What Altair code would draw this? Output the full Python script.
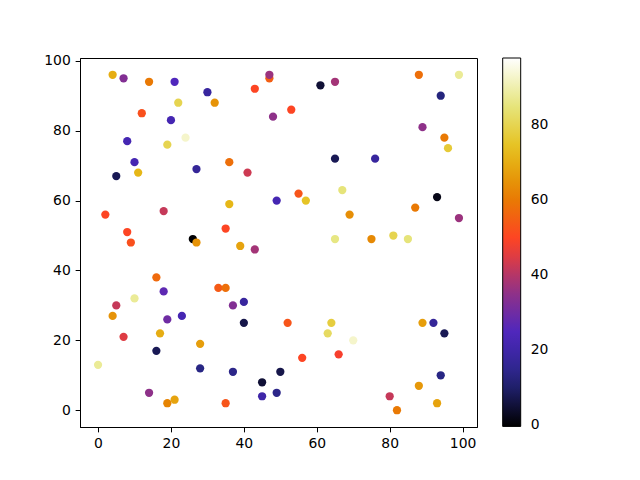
import altair as alt
import pandas as pd

xs = [4, 7, 14, 21, 30, 32, 22, 43, 47, 47, 12, 20, 48, 8, 24, 19, 10, 5, 11, 27,
      36, 41, 36, 49, 2, 18, 8, 35, 61, 65, 88, 99, 94, 53, 89, 95, 96, 65, 76, 55,
      57, 67, 93, 69, 87, 99, 65, 75, 81, 85, 52, 64, 63, 70, 89, 92, 95, 56, 66, 50,
      49, 94, 88, 80, 82, 93, 26, 27, 39, 43, 9, 16, 18, 33, 35, 10, 5, 4, 37, 40,
      19, 23, 40, 7, 17, 28, 16, 0, 28, 37, 45, 45, 14, 19, 21, 35]
ys = [96, 95, 94, 94, 91, 88, 88, 92, 95, 96, 85, 83, 84, 77, 78, 76, 71, 67, 68, 69,
      71, 68, 59, 60, 56, 57, 51, 52, 93, 94, 96, 96, 90, 86, 81, 78, 75, 72, 72, 62,
      60, 63, 61, 56, 58, 55, 49, 49, 50, 49, 25, 25, 22, 20, 25, 25, 22, 15, 16, 11,
      5, 10, 7, 4, 0, 2, 49, 48, 47, 46, 48, 38, 34, 35, 35, 32, 30, 27, 30, 31,
      26, 27, 25, 21, 22, 19, 17, 13, 12, 11, 8, 4, 5, 2, 3, 2]
cs = [70, 33, 60, 25, 18, 65, 80, 50, 55, 37, 52, 22, 35, 22, 93, 80, 22, 8, 72, 17,
      58, 43, 72, 22, 50, 42, 50, 50, 5, 38, 58, 88, 12, 50, 35, 60, 77, 8, 18, 53,
      75, 85, 2, 64, 60, 37, 86, 63, 80, 85, 53, 78, 82, 93, 67, 17, 8, 50, 48, 7,
      14, 13, 66, 42, 60, 68, 0, 65, 68, 38, 52, 57, 27, 54, 58, 88, 42, 65, 33, 18,
      30, 22, 7, 45, 70, 67, 8, 88, 13, 14, 5, 20, 35, 62, 68, 53]

cticks = [0, 20, 40, 60, 80]
xticks = [0, 20, 40, 60, 80, 100]
yticks = [0, 20, 40, 60, 80, 100]

df = pd.DataFrame({"x": xs, "y": ys, "c": cs, "order": list(range(len(xs)))})

cmap_colors = ["#000000", "#262680", "#4d26bf", "#993380", "#ff4026",
               "#e68000", "#e6bf1a", "#e6e680", "#ffffff"]
vmax = 98
cmap_domain = [vmax * i / 8 for i in range(9)]
cmap_domain[0] = -0.3

FONT = "DejaVu Sans"
FS = 13.9

axis_common = dict(grid=False, tickSize=4.86, labelFontSize=FS, labelFont=FONT,
                   labelColor="black", tickColor="black", domainColor="black",
                   labelPadding=4.86, title=None, labelFlush=False)

chart = alt.Chart(df).mark_circle(size=68, opacity=1).encode(
    x=alt.X("x:Q", scale=alt.Scale(domain=[-4.95, 103.95], nice=False, zero=False),
            axis=alt.Axis(values=xticks, **axis_common)),
    y=alt.Y("y:Q", scale=alt.Scale(domain=[-4.8, 100.8], nice=False, zero=False),
            axis=alt.Axis(values=yticks, **axis_common)),
    color=alt.Color("c:Q",
                    scale=alt.Scale(domain=cmap_domain, range=cmap_colors,
                                    interpolate="rgb"),
                    legend=alt.Legend(orient="none", legendX=422.7, legendY=0,
                                      direction="vertical", title=None,
                                      gradientLength=368.4, gradientThickness=18,
                                      gradientStrokeColor="black",
                                      gradientStrokeWidth=1,
                                      values=cticks, labelFontSize=FS,
                                      labelFont=FONT, labelColor="black",
                                      labelOffset=10, labelOverlap=False,
                                      padding=0)),
    order=alt.Order("order:Q"),
).properties(
    width=397, height=369,
    autosize=alt.AutoSizeParams(type="none"),
    padding={"left": 72, "top": 50, "right": 155, "bottom": 45},
).configure_view(stroke="black", strokeWidth=1)

chart.save("out.html", embed_options={"renderer": "svg", "actions": False})
